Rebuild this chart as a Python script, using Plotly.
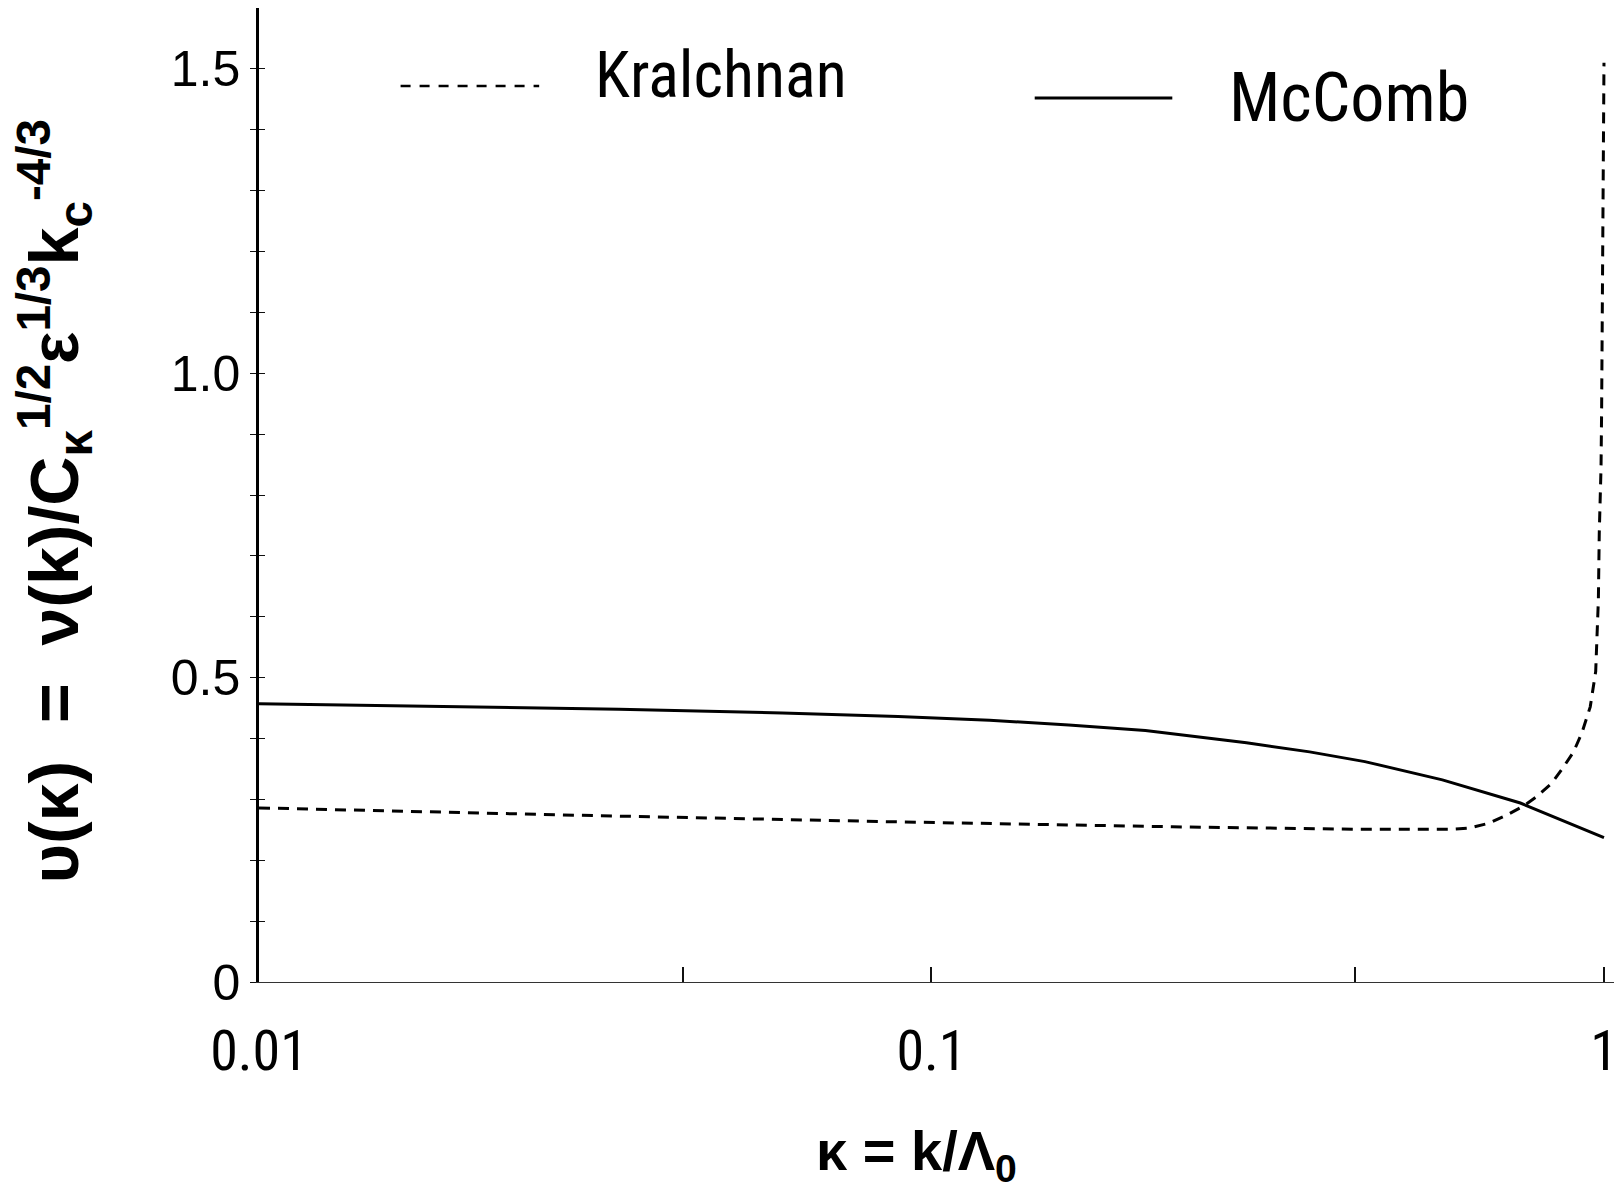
import plotly.graph_objects as go

# Normalised eddy viscosity versus kappa = k / Lambda_0
kappa_mccomb = [0.01, 0.02, 0.0343, 0.06, 0.0892, 0.122, 0.16, 0.208, 0.294, 0.365, 0.441, 0.575, 0.751, 1.0]
nu_mccomb = [0.457, 0.452, 0.448, 0.442, 0.436, 0.430, 0.422, 0.413, 0.393, 0.378, 0.362, 0.332, 0.294, 0.237]

kappa_kraichnan = [0.01, 0.0295, 0.0892, 0.228, 0.427, 0.597, 0.631, 0.675, 0.716, 0.759, 0.793,
                   0.837, 0.869, 0.901, 0.927, 0.954, 0.972, 0.981, 0.984, 0.990, 0.992, 0.995, 1.0]
nu_kraichnan = [0.286, 0.274, 0.263, 0.255, 0.251, 0.251, 0.253, 0.261, 0.274, 0.289, 0.304,
                0.327, 0.352, 0.378, 0.409, 0.452, 0.510, 0.628, 0.738, 0.846, 0.940, 1.200, 1.510]

x_tick_vals = [0.01, 0.0427, 0.1, 0.427, 1.0]
x_tick_text = ["0.01", "", "0.1", "", "1"]
y_tick_vals = [i / 10 for i in range(16)]
y_tick_text = ["0", "", "", "", "", "0.5", "", "", "", "", "1.0", "", "", "", "", "1.5"]

W, H = 1621, 1192
ML, MR, MT, MB = 259, 3, 8, 210
PW, PH = W - ML - MR, H - MT - MB


def px(xp):
    return (xp - ML) / PW


def py(yp):
    return (H - MB - yp) / PH


NARROW = "Liberation Sans Narrow, Arial Narrow, Roboto Condensed, Liberation Sans, sans-serif"
SANS = "Liberation Sans, Arial, sans-serif"

fig = go.Figure()
fig.add_trace(go.Scatter(x=kappa_kraichnan, y=nu_kraichnan, mode="lines", name="Kralchnan",
                         line=dict(color="black", width=3, dash="11px,8px"), showlegend=False))
fig.add_trace(go.Scatter(x=kappa_mccomb, y=nu_mccomb, mode="lines", name="McComb",
                         line=dict(color="black", width=3), showlegend=False))
# carrier for the inner half of the crossed y ticks
fig.add_trace(go.Scatter(x=[kappa_mccomb[0]], y=[nu_mccomb[0]], yaxis="y2", mode="markers",
                         marker=dict(opacity=0), hoverinfo="skip", showlegend=False))

fig.update_layout(
    width=W, height=H,
    margin=dict(l=ML, r=MR, t=MT, b=MB),
    paper_bgcolor="white", plot_bgcolor="white",
    xaxis=dict(type="log", range=[-2, 0.0149], tickmode="array", tickvals=x_tick_vals,
               ticktext=x_tick_text, ticks="inside", ticklen=15, tickwidth=1.5, tickcolor="#111",
               showline=True, linecolor="#333", linewidth=1.2, showgrid=False, zeroline=False,
               tickfont=dict(family=NARROW, size=56, color="black"), ticklabelstandoff=20,
               ticklabeloverflow="allow"),
    yaxis=dict(range=[0, 1.6], tickmode="array", tickvals=y_tick_vals, ticktext=y_tick_text,
               ticks="outside", ticklen=6, tickwidth=1.2, tickcolor="#111",
               showline=True, linecolor="black", linewidth=2.5, showgrid=False, zeroline=False,
               tickfont=dict(family=SANS, size=50, color="black"), ticklabelstandoff=0),
    yaxis2=dict(range=[0, 1.6], overlaying="y", side="left", anchor="x", tickmode="array",
                tickvals=y_tick_vals, ticks="inside", ticklen=6, tickwidth=1.2, tickcolor="#111",
                showticklabels=False, showline=False, showgrid=False, zeroline=False),
)

# legend samples and labels
fig.add_shape(type="line", xref="paper", yref="paper", x0=px(401), x1=px(540), y0=py(86), y1=py(86),
              line=dict(color="black", width=2.5, dash="10px,9px"))
fig.add_shape(type="line", xref="paper", yref="paper", x0=px(1037), x1=px(1175), y0=py(98), y1=py(98),
              line=dict(color="black", width=3))
fig.add_annotation(xref="paper", yref="paper", x=px(594), y=py(75), xanchor="left", yanchor="middle",
                   text="Kralchnan", showarrow=False, font=dict(family=NARROW, size=64, color="black"))
fig.add_annotation(xref="paper", yref="paper", x=px(1230), y=py(98), xanchor="left", yanchor="middle",
                   text="McComb", showarrow=False, font=dict(family=NARROW, size=68, color="black"))

# axis titles
fig.add_annotation(xref="paper", yref="paper", x=px(918), y=py(1192), xanchor="center", yanchor="bottom",
                   text="<b>κ = k/Λ<sub>0</sub></b>", showarrow=False,
                   font=dict(family=SANS, size=56, color="black"))
fig.add_annotation(xref="paper", yref="paper", x=px(54), y=py(501), xanchor="center", yanchor="middle",
                   textangle=-90, showarrow=False,
                   text="<b>υ(κ)  =  ν(k)/C<sub>κ</sub><sup>1/2</sup>ε<sup>1/3</sup>k<sub>c</sub><sup>-4/3</sup></b>",
                   font=dict(family=SANS, size=68, color="black"))

fig.write_html("out.html")
